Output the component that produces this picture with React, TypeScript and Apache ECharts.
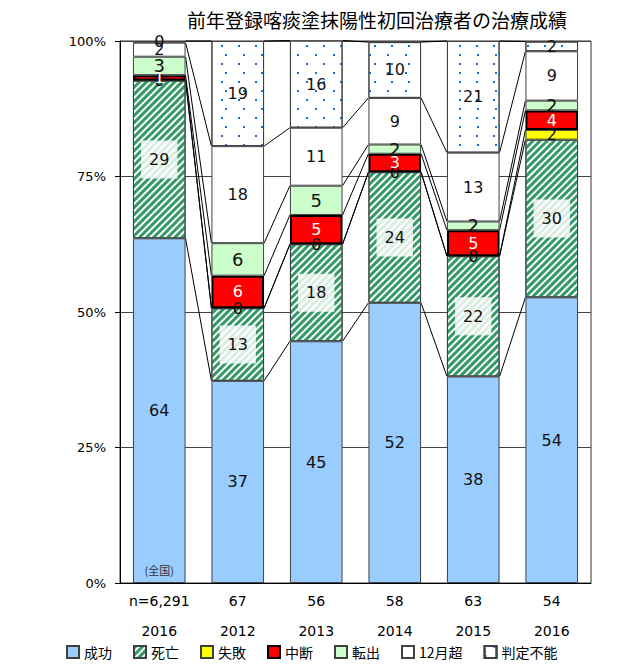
import React, { useEffect, useRef } from "react";
import * as echarts from "echarts";

const categories = ["2016", "2012", "2013", "2014", "2015", "2016"];
const nLabels = ["n=6,291", "67", "56", "58", "63", "54"];
const yTicks = [0, 25, 50, 75, 100];

// bar heights (%)
const seikou = [63.6, 37.3, 44.6, 51.7, 38.1, 52.7];
const shibou = [29.1, 13.4, 17.9, 24.1, 22.2, 29.1];
const shippai = [0, 0, 0, 0, 0, 1.8];
const chudan = [1.0, 6.0, 5.4, 3.4, 4.8, 3.6];
const tenshutsu = [3.4, 6.0, 5.4, 1.7, 1.6, 1.8];
const over12 = [2.6, 17.9, 10.7, 8.6, 12.7, 9.1];
const hantei = [0.3, 19.4, 16.1, 10.3, 20.6, 1.8];

// displayed labels
const seikouL = [64, 37, 45, 52, 38, 54];
const shibouL = [29, 13, 18, 24, 22, 30];
const shippaiL = [0, 0, 0, 0, 0, 2];
const chudanL = [1, 6, 5, 3, 5, 4];
const tenshutsuL = [3, 6, 5, 2, 2, 2];
const over12L = [2, 18, 11, 9, 13, 9];
const hanteiL = [0, 19, 16, 10, 21, 2];

const seriesNames = ["成功", "死亡", "失敗", "中断", "転出", "12月超", "判定不能"];
const seriesValues = [seikou, shibou, shippai, chudan, tenshutsu, over12, hantei];
const seriesLabels = [seikouL, shibouL, shippaiL, chudanL, tenshutsuL, over12L, hanteiL];

const BAR_RATIO = 0.67;
const NUM_FONT = "'DejaVu Sans', 'Noto Sans CJK JP', sans-serif";
const JP_FONT = "'Noto Sans CJK JP', 'DejaVu Sans', sans-serif";

export default function App() {
  const ref = useRef<HTMLDivElement>(null);
  useEffect(() => {
    if (!ref.current) return;
    const chart = echarts.init(ref.current, null, { renderer: "svg" });

    const border = "#404040";
    const styles: any[] = [
      { color: "#99ccff", borderColor: border, borderWidth: 1 },
      {
        color: "#ffffff",
        borderColor: border,
        borderWidth: 1,
        decal: {
          symbol: "rect",
          symbolSize: 1,
          color: "#339966",
          backgroundColor: "#f2faf5",
          dashArrayX: [1, 0],
          dashArrayY: [2.2, 2],
          rotation: -Math.PI / 4,
        },
      },
      { color: "#ffff00", borderColor: border, borderWidth: 1 },
      { color: "#ff0000", borderColor: "#000000", borderWidth: 2 },
      { color: "#ccffcc", borderColor: border, borderWidth: 1 },
      { color: "#ffffff", borderColor: border, borderWidth: 1 },
      {
        color: "#ffffff",
        borderColor: border,
        borderWidth: 1,
        decal: {
          symbol: "rect",
          symbolSize: 1,
          color: "#1a6fd6",
          backgroundColor: "#ffffff",
          dashArrayX: [[2, 15], [0, 8.5, 2, 6.5]],
          dashArrayY: [2, 6.5],
          rotation: 0,
        },
      },
    ];

    const barSeries: any[] = seriesNames.map((name, k) => {
      const labels = seriesLabels[k];
      const label: any = {
        show: true,
        position: "inside",
        fontFamily: NUM_FONT,
        fontSize: k === 4 ? 18 : 16,
        color: k === 3 ? "#ffffff" : "#111111",
        formatter: (p: any) => String(labels[p.dataIndex]),
      };
      if (k === 1) {
        label.backgroundColor = "rgba(255,255,255,0.82)";
        label.padding = [11, 8];
      }
      const s: any = {
        name,
        type: "bar",
        stack: "total",
        barWidth: BAR_RATIO * 100 + "%",
        data: seriesValues[k],
        itemStyle: styles[k],
        label,
        emphasis: { disabled: true },
        z: 3,
      };
      if (k === 0) {
        s.markPoint = {
          symbol: "rect",
          symbolSize: 0,
          data: [{ coord: [0, 0] }],
          label: {
            show: true,
            position: "inside",
            formatter: "(全国)",
            offset: [0, -13],
            fontSize: 11,
            color: "#333333",
            fontFamily: JP_FONT,
          },
        };
      }
      return s;
    });

    // series lines connecting segment tops between adjacent bars
    const lineData: number[][] = [];
    const cum: number[][] = [];
    seriesValues.forEach((vals, k) => {
      cum[k] = vals.map((v, i) => v + (k > 0 ? cum[k - 1][i] : 0));
    });
    cum.forEach((c) => {
      for (let i = 0; i < c.length - 1; i++) lineData.push([i, c[i], c[i + 1]]);
    });

    const lineSeries: any = {
      name: "seriesLines",
      type: "custom",
      data: lineData,
      encode: { x: 0, y: [1, 2] },
      z: 2,
      silent: true,
      renderItem: (params: any, api: any) => {
        const i = api.value(0);
        const p1 = api.coord([i, api.value(1)]);
        const p2 = api.coord([i + 1, api.value(2)]);
        const band = api.size([1, 0])[0];
        const half = (band * BAR_RATIO) / 2;
        return {
          type: "line",
          shape: { x1: p1[0] + half, y1: p1[1], x2: p2[0] - half, y2: p2[1] },
          style: { stroke: "#000000", lineWidth: 1 },
        };
      },
    };

    chart.setOption({
      animation: false,
      title: {
        text: "前年登録喀痰塗抹陽性初回治療者の治療成績",
        left: 182,
        top: 5,
        textStyle: { fontFamily: JP_FONT, fontSize: 19, fontWeight: "normal", color: "#000" },
      },
      grid: {
        left: 120,
        right: 37,
        top: 41,
        bottom: 83,
        show: true,
        borderColor: "#333333",
        borderWidth: 1,
        backgroundColor: "transparent",
      },
      legend: {
        data: seriesNames,
        left: 66,
        top: 645,
        padding: 0,
        icon: "rect",
        itemWidth: 12,
        itemHeight: 12,
        itemGap: 21,
        textStyle: { fontFamily: JP_FONT, fontSize: 14, color: "#000" },
      },
      xAxis: {
        type: "category",
        data: categories,
        axisLine: { lineStyle: { color: "#000", width: 1 } },
        axisTick: { show: false },
        axisLabel: {
          interval: 0,
          margin: 3,
          lineHeight: 30,
          fontFamily: NUM_FONT,
          fontSize: 14,
          color: "#000",
          formatter: (v: string, idx: number) => `${nLabels[idx]}\n${v}`,
        },
      },
      yAxis: {
        type: "value",
        min: yTicks[0],
        max: yTicks[yTicks.length - 1],
        interval: 25,
        axisLine: { show: true, lineStyle: { color: "#000", width: 1 } },
        axisTick: { show: true, length: 5, lineStyle: { color: "#000" } },
        axisLabel: {
          formatter: "{value}%",
          fontFamily: NUM_FONT,
          fontSize: 13,
          color: "#000",
          margin: 14,
        },
        splitLine: { show: true, lineStyle: { color: "#444", width: 1 } },
      },
      series: [...barSeries, lineSeries],
    });

    return () => chart.dispose();
  }, []);

  return (
    <div
      ref={ref}
      style={{ position: "absolute", left: 0, top: 0, width: 628, height: 666 }}
    />
  );
}
